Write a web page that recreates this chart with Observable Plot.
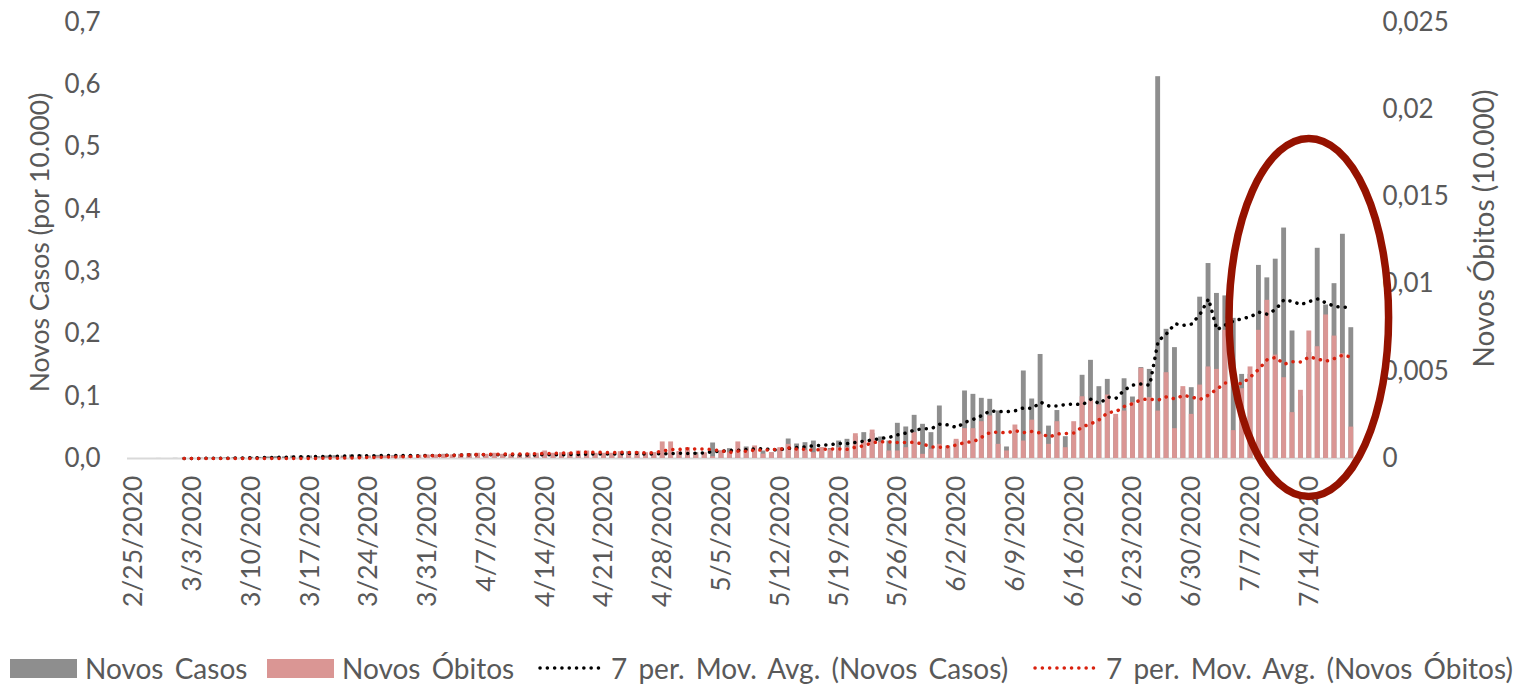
<!DOCTYPE html>
<html>
<head>
<meta charset="utf-8">
<script src="https://cdn.jsdelivr.net/npm/d3@7"></script>
<script src="https://cdn.jsdelivr.net/npm/@observablehq/plot@0.6"></script>
<style>
  html, body { margin: 0; padding: 0; background: #fff; }
  body { width: 1522px; height: 687px; overflow: hidden; font-family: Lato, "Open Sans", sans-serif; color: #595959; }
  #chart { position: absolute; left: 0; top: 0; }
  #legend { position: absolute; left: 0; top: 649px; width: 1522px; height: 38px; font-size: 28px; word-spacing: 4px; color: #595959; }
  #legend .it { position: absolute; top: 0; height: 38px; display: flex; align-items: center; white-space: nowrap; }
  #legend .sw { display: inline-block; width: 67px; height: 19px; margin-right: 8px; }
  #legend svg { margin-right: 10px; }
</style>
</head>
<body>
<div id="chart"></div>
<div id="legend">
  <div class="it" style="left:10px"><span class="sw" style="background:#8e8e8e"></span><span>Novos Casos</span></div>
  <div class="it" style="left:267px"><span class="sw" style="background:#da9694"></span><span>Novos Óbitos</span></div>
  <div class="it" style="left:537px"><svg width="64" height="10"><line x1="3" y1="5" x2="62" y2="5" stroke="#000" stroke-width="3.5" stroke-linecap="round" stroke-dasharray="0.1 7.2"/></svg><span>7 per. Mov. Avg. (Novos Casos)</span></div>
  <div class="it" style="left:1032px"><svg width="64" height="10"><line x1="3" y1="5" x2="62" y2="5" stroke="#d9210e" stroke-width="3.5" stroke-linecap="round" stroke-dasharray="0.1 7.2"/></svg><span>7 per. Mov. Avg. (Novos Óbitos)</span></div>
</div>
<script>
// ---- data ----
const firstDay = "2020-02-25";
const dayCount = 146;
const casos = [
  0, 0, 0, 0.0001, 0, 0.0002, 0.0002, 0.0003, 0.0005, 0.0005,
  0.0008, 0.001, 0.0012, 0.0015, 0.002, 0.0018, 0.0025, 0.003, 0.0025, 0.004,
  0.0035, 0.004, 0.003, 0.004, 0.0045, 0.004, 0.0056, 0.0056, 0.004, 0.005,
  0.004, 0.0045, 0.005, 0.0045, 0.005, 0.005, 0.005, 0.0067, 0.005, 0.0067,
  0.0077, 0.005, 0.005, 0.006, 0.006, 0.005, 0.006, 0.0065, 0.006, 0.006,
  0.0065, 0.006, 0.0083, 0.006, 0.011, 0.007, 0.006, 0.007, 0.007, 0.011,
  0.006, 0.006, 0.009, 0.008, 0.009, 0.01, 0.009, 0.0093, 0.008, 0.0249,
  0.012, 0.0158, 0.014, 0.0185, 0.015, 0.012, 0.009, 0.015, 0.0313, 0.0233,
  0.0254, 0.028, 0.017, 0.016, 0.028, 0.0308, 0.035, 0.0415, 0.04, 0.0345,
  0.028, 0.0565, 0.0506, 0.0693, 0.0549, 0.0415, 0.0843, 0.02, 0.028, 0.1084,
  0.103, 0.0966, 0.095, 0.0763, 0.0185, 0.04, 0.1405, 0.0955, 0.167, 0.052,
  0.077, 0.035, 0.045, 0.1336, 0.1576, 0.1153, 0.127, 0.065, 0.128, 0.0987,
  0.146, 0.143, 0.613, 0.2074, 0.178, 0.11, 0.1137, 0.259, 0.313, 0.265,
  0.261, 0.225, 0.135, 0.135, 0.31, 0.29, 0.32, 0.37, 0.2047, 0.1,
  0.17, 0.3375, 0.2464, 0.2807, 0.36, 0.21
];
const obitos = [
  0, 0, 0, 0, 0, 0, 0, 0, 0, 0,
  0, 0, 0, 0, 0, 0, 0, 0, 0, 0,
  0, 0.00002, 0.00003, 0.00003, 0.00005, 0.00005, 0.00006, 0.00008, 0.0001, 0.0001,
  0.00012, 0.00012, 0.00015, 0.00015, 0.00018, 0.0002, 0.0002, 0.00022, 0.0002, 0.00022,
  0.00025, 0.0003, 0.00024, 0.0003, 0.00024, 0.00024, 0.00024, 0.0003, 0.0003, 0.00043,
  0.0003, 0.00033, 0.00033, 0.00043, 0.00043, 0.0003, 0.0003, 0.0003, 0.00039, 0.0003,
  0.00039, 0.00033, 0.00033, 0.00095, 0.00095, 0.0004, 0.00062, 0.00021, 0.00033, 0.0001,
  0.00043, 0.00033, 0.00095, 0.00056, 0.00072, 0.00025, 0.00033, 0.00062, 0.00081, 0.0005,
  0.00047, 0.00033, 0.00062, 0.0005, 0.00062, 0.00062, 0.00142, 0.001, 0.00163, 0.00091,
  0.00043, 0.00043, 0.00062, 0.00148, 0.00024, 0.00053, 0.00081, 0.00062, 0.0011, 0.00171,
  0.00171, 0.00211, 0.00244, 0.00081, 0.00043, 0.00192, 0.001, 0.0022, 0.00139, 0.00081,
  0.00211, 0.00062, 0.00211, 0.00354, 0.00334, 0.00307, 0.00364, 0.00253, 0.00272, 0.0032,
  0.00517, 0.00349, 0.00272, 0.00492, 0.00171, 0.00412, 0.00253, 0.00421, 0.00525, 0.00511,
  0.00735, 0.0016, 0.004, 0.00525, 0.00735, 0.00907, 0.00593, 0.00463, 0.00263, 0.00391,
  0.00731, 0.00641, 0.00823, 0.00702, 0.00601, 0.0018
];
const xTickLabels = ["2/25/2020", "3/3/2020", "3/10/2020", "3/17/2020", "3/24/2020", "3/31/2020",
  "4/7/2020", "4/14/2020", "4/21/2020", "4/28/2020", "5/5/2020", "5/12/2020", "5/19/2020",
  "5/26/2020", "6/2/2020", "6/9/2020", "6/16/2020", "6/23/2020", "6/30/2020", "7/7/2020", "7/14/2020"];
const leftTicks = [0, 0.1, 0.2, 0.3, 0.4, 0.5, 0.6, 0.7];
const rightTicks = [0, 0.005, 0.01, 0.015, 0.02, 0.025];
const leftMax = 0.7, rightMax = 0.025;
// annotation ellipse (highlight on the last weeks)
const annot = { date: "7/14/2020", value: 0.2256, halfDays: 9.5, halfValue: 0.2875 };

// ---- build table ----
const fmtDate = d3.utcFormat("%-m/%-d/%Y");
const days = d3.utcDay.range(new Date(firstDay), d3.utcDay.offset(new Date(firstDay), dayCount)).map(fmtDate);
const RATIO = leftMax / rightMax;
const data = days.map((d, i) => ({ date: d, casos: casos[i], obitos: obitos[i] }));
const comma = (s) => s.replace(".", ",");
const fmtL = (v) => comma(d3.format(".1f")(v));
const fmtR = (v) => v === 0 ? "0" : comma(d3.format(".3~f")(+(v).toFixed(4)));
const ma7 = (V) => (V.length < 7 || V.some((v) => v == null || isNaN(v))) ? NaN : d3.mean(V);

const ellipseMark = (index, scales, values, dims) => {
  const x = scales.x, y = scales.y;
  const bw = x.bandwidth ? x.bandwidth() : 0;
  const i = days.indexOf(annot.date);
  const step = x(days[i]) - x(days[i - 1]);
  const cx = x(annot.date) + bw / 2;
  const cy = y(annot.value);
  const rx = step * annot.halfDays;
  const ry = y(0) - y(annot.halfValue);
  const e = document.createElementNS("http://www.w3.org/2000/svg", "ellipse");
  e.setAttribute("cx", cx); e.setAttribute("cy", cy);
  e.setAttribute("rx", rx); e.setAttribute("ry", ry);
  e.setAttribute("fill", "none"); e.setAttribute("stroke", "#951200"); e.setAttribute("stroke-width", 7.5);
  return e;
};

const chart = Plot.plot({
  width: 1522,
  height: 640,
  marginLeft: 129,
  marginRight: 167,
  marginTop: 22,
  marginBottom: 182,
  style: { fontFamily: "Lato, 'Open Sans', sans-serif", fontSize: "26px", color: "#595959", background: "white", overflow: "visible" },
  x: { type: "band", domain: days, paddingInner: 0.42, paddingOuter: 0.21 },
  y: { domain: [0, leftMax] },
  marks: [
    Plot.ruleY([0], { stroke: "#d9d9d9", strokeWidth: 2, insetLeft: -2, insetRight: -7 }),
    Plot.barY(data, { x: "date", y: "casos", fill: "#8e8e8e" }),
    Plot.barY(data, { x: "date", y: (d) => d.obitos * RATIO, fill: "#da9694" }),
    Plot.lineY(data, Plot.windowY({ k: 7, anchor: "end", reduce: ma7 }, { x: "date", y: "casos", stroke: "#000", strokeWidth: 3.5, strokeDasharray: "0.1 7.2", strokeLinecap: "round" })),
    Plot.lineY(data, Plot.windowY({ k: 7, anchor: "end", reduce: ma7 }, { x: "date", y: (d) => d.obitos * RATIO, stroke: "#d9210e", strokeWidth: 3.5, strokeDasharray: "0.1 7.2", strokeLinecap: "round" })),
    Plot.axisY({ anchor: "left", ticks: leftTicks, tickFormat: fmtL, tickSize: 0, tickPadding: 29, label: null, fontSize: 26 }),
    Plot.axisY({ anchor: "right", ticks: rightTicks.map((v) => v * RATIO), tickFormat: (v) => fmtR(v / RATIO), tickSize: 0, tickPadding: 27, label: null, fontSize: 26 }),
    Plot.axisX({ ticks: xTickLabels, tickSize: 0, tickRotate: -90, tickPadding: 17, label: null, fontSize: 26.5 }),
    Plot.text(["Novos Casos (por 10.000)"], { frameAnchor: "left", textAnchor: "middle", dx: -89, dy: 2, rotate: -90, fontSize: 26.5, fill: "#595959" }),
    Plot.text(["Novos Óbitos (10.000)"], { frameAnchor: "right", textAnchor: "middle", dx: 130, dy: -12, rotate: -90, fontSize: 28, fill: "#595959" }),
    ellipseMark
  ]
});
document.getElementById("chart").appendChild(chart);
</script>
</body>
</html>
